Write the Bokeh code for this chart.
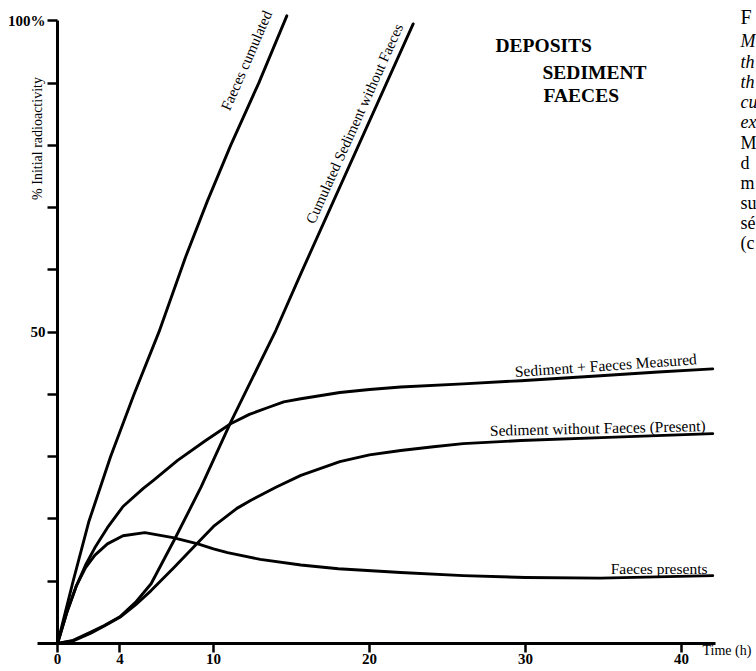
import math
from bokeh.plotting import figure
from bokeh.models import FixedTicker, Label, Range1d, LinearAxis
from bokeh.embed import file_html
from bokeh.resources import INLINE

# ---------------- data ----------------
# Time (h) and % initial radioactivity for each curve
faeces_cum_t = [0, 0.5, 1.0, 2.0, 3.4, 4.9, 6.5, 8.2, 9.6, 11.1, 12.9, 14.7]
faeces_cum_v = [0, 5, 10, 19.5, 30, 40, 50, 62, 71, 80, 90, 100.8]

sed_cum_t = [0, 1, 2.1, 3, 4.0, 5, 6.0, 7.5, 9.2, 11.1, 14.0, 15.6, 22.8]
sed_cum_v = [0, 0.5, 1.8, 2.9, 4.3, 6.6, 9.6, 16.7, 25.1, 35.5, 50.3, 59.4, 99.5]

sed_faeces_t = [0, 0.6, 1.2, 1.8, 2.4, 3.2, 4.2, 5.5, 6.15, 7.7, 9.5, 11.1, 12.3, 13.5,
                14.5, 15.6, 18.1, 20, 22, 26, 29.7, 34.8, 38.5, 42]
sed_faeces_v = [0, 5, 9.2, 12.6, 15.4, 18.6, 22.0, 24.9, 26.2, 29.4, 32.6, 35.3, 36.8, 37.9,
                38.8, 39.3, 40.3, 40.8, 41.2, 41.7, 42.2, 43.0, 43.6, 44.1]

sed_present_t = [0, 1, 2.1, 3, 4, 5, 6, 7.5, 8.7, 10, 11.5, 12.4, 14, 15.6, 18.1, 20, 22,
                 24.1, 26, 29.7, 35.3, 42]
sed_present_v = [0, 0.4, 1.6, 2.8, 4.2, 6.2, 8.5, 12.3, 15.4, 18.8, 21.7, 23.0, 25.1, 27.0,
                 29.2, 30.3, 31.0, 31.6, 32.1, 32.6, 33.1, 33.7]

faeces_pres_t = [0, 0.6, 1.2, 1.8, 2.4, 3.2, 4.2, 5.6, 7.4, 9.0, 10.0, 10.9, 13, 15.6, 18,
                 22, 26, 30, 34.8, 42]
faeces_pres_v = [0, 5, 9.2, 12.2, 14.2, 16.0, 17.3, 17.8, 17.0, 16.0, 15.2, 14.6, 13.5, 12.6,
                 12.0, 11.4, 10.9, 10.6, 10.5, 10.9]

x_ticks = [0, 4, 10, 20, 30, 40]
y_ticks = [0, 10, 20, 30, 40, 50, 60, 70, 80, 90, 100]
y_tick_labels = {100: "100%", 50: "50"}

curve_labels = ["Faeces cumulated", "Cumulated Sediment without Faeces",
                "Sediment + Faeces  Measured", "Sediment without Faeces (Present)",
                "Faeces presents"]
title_lines = ["DEPOSITS", "SEDIMENT", "FAECES"]
caption_bits = ["F", "M", "th", "th", "cu", "ex", "M", "d", "m", "su", "sé", "(c"]

# ---------------- figure ----------------
SERIF = "Liberation Serif"
INK = "#000000"

W, H = 756, 671
X0_PX, PX_PER_H = 57.0, 15.6        # where t=0 sits, pixels per hour
Y0_PX, PX_PER_PCT = 643.0, 6.227    # where 0 % sits, pixels per percent

p = figure(width=W, height=H, output_backend="svg", toolbar_location=None,
           x_axis_location=None, y_axis_location=None,
           x_range=Range1d(-X0_PX / PX_PER_H, (W - X0_PX) / PX_PER_H),
           y_range=Range1d((Y0_PX - H) / PX_PER_PCT, Y0_PX / PX_PER_PCT),
           min_border_left=0, min_border_right=0, min_border_top=0,
           min_border_bottom=0)
p.outline_line_color = None
p.grid.visible = False
p.background_fill_color = "white"
p.border_fill_color = "white"

for xs, ys in [(faeces_cum_t, faeces_cum_v), (sed_cum_t, sed_cum_v),
               (sed_faeces_t, sed_faeces_v), (sed_present_t, sed_present_v),
               (faeces_pres_t, faeces_pres_v)]:
    p.line(xs, ys, line_color=INK, line_width=2.9, line_join="round", line_cap="round")

# axes, pinned at the origin
ya = LinearAxis(fixed_location=0, ticker=FixedTicker(ticks=y_ticks))
ya.major_label_overrides = {t: y_tick_labels.get(t, "") for t in y_ticks}
ya.bounds = (0, 100)
ya.axis_line_width = 3
ya.axis_line_color = INK
ya.major_tick_out = 10
ya.major_tick_in = 0
ya.major_tick_line_width = 2.5
ya.major_tick_line_color = INK
ya.minor_tick_out = 0
ya.minor_tick_in = 0
ya.major_label_standoff = 2
ya.major_label_text_font = SERIF
ya.major_label_text_font_style = "bold"
ya.major_label_text_font_size = "15px"
ya.major_label_text_color = INK
p.add_layout(ya, "left")

xa = LinearAxis(fixed_location=0, ticker=FixedTicker(ticks=x_ticks))
xa.bounds = (-1.3, 42.2)
xa.axis_line_width = 3
xa.axis_line_color = INK
xa.major_tick_out = 9
xa.major_tick_in = 0
xa.major_tick_line_width = 2.5
xa.major_tick_line_color = INK
xa.minor_tick_out = 0
xa.minor_tick_in = 0
xa.major_label_standoff = 1
xa.major_label_text_font = SERIF
xa.major_label_text_font_style = "bold"
xa.major_label_text_font_size = "15px"
xa.major_label_text_color = INK
p.add_layout(xa, "below")


def lab(x, y, text, size="15px", style="normal", angle=0.0, align="left",
        baseline="middle"):
    p.add_layout(Label(x=x, y=y, text=text, angle=angle, text_font=SERIF,
                       text_font_size=size, text_font_style=style, text_color=INK,
                       text_align=align, text_baseline=baseline))


def px_x(px):
    return (px - X0_PX) / PX_PER_H


def px_y(py):
    return (Y0_PX - py) / PX_PER_PCT


# axis titles
lab(px_x(37), px_y(138), "% Initial radioactivity", size="14px", angle=math.pi / 2,
    align="center")
lab(px_x(702), px_y(650), "Time (h)", size="14px")

# curve labels
lab(px_x(246), px_y(60), curve_labels[0], size="15px", angle=math.radians(66.5),
    align="center")
lab(px_x(354), px_y(123), curve_labels[1], size="14.8px", angle=math.radians(65.8),
    align="center")
lab(px_x(700), px_y(358), curve_labels[2], size="15.5px", angle=math.radians(4),
    align="right", baseline="alphabetic")
lab(px_x(705), px_y(425), curve_labels[3], size="15.5px", angle=math.radians(1.3),
    align="right", baseline="alphabetic")
lab(px_x(707), px_y(568), curve_labels[4], size="15.5px", align="right",
    baseline="alphabetic")

# block title
lab(px_x(495), px_y(45), title_lines[0], size="19.5px", style="bold")
lab(px_x(542), px_y(72), title_lines[1], size="19.5px", style="bold")
lab(px_x(543), px_y(95), title_lines[2], size="19.5px", style="bold")

# clipped caption fragments at the right edge
cap_y = [16, 40, 61, 81, 101, 121, 142, 162, 182, 202, 222, 242]
for i, (txt, py) in enumerate(zip(caption_bits, cap_y)):
    style = "italic" if 1 <= i <= 5 else "normal"
    size = "20px" if i == 0 else "18px"
    lab(px_x(740), px_y(py), txt, size=size, style=style)

open("out.html", "w").write(file_html(p, INLINE))
